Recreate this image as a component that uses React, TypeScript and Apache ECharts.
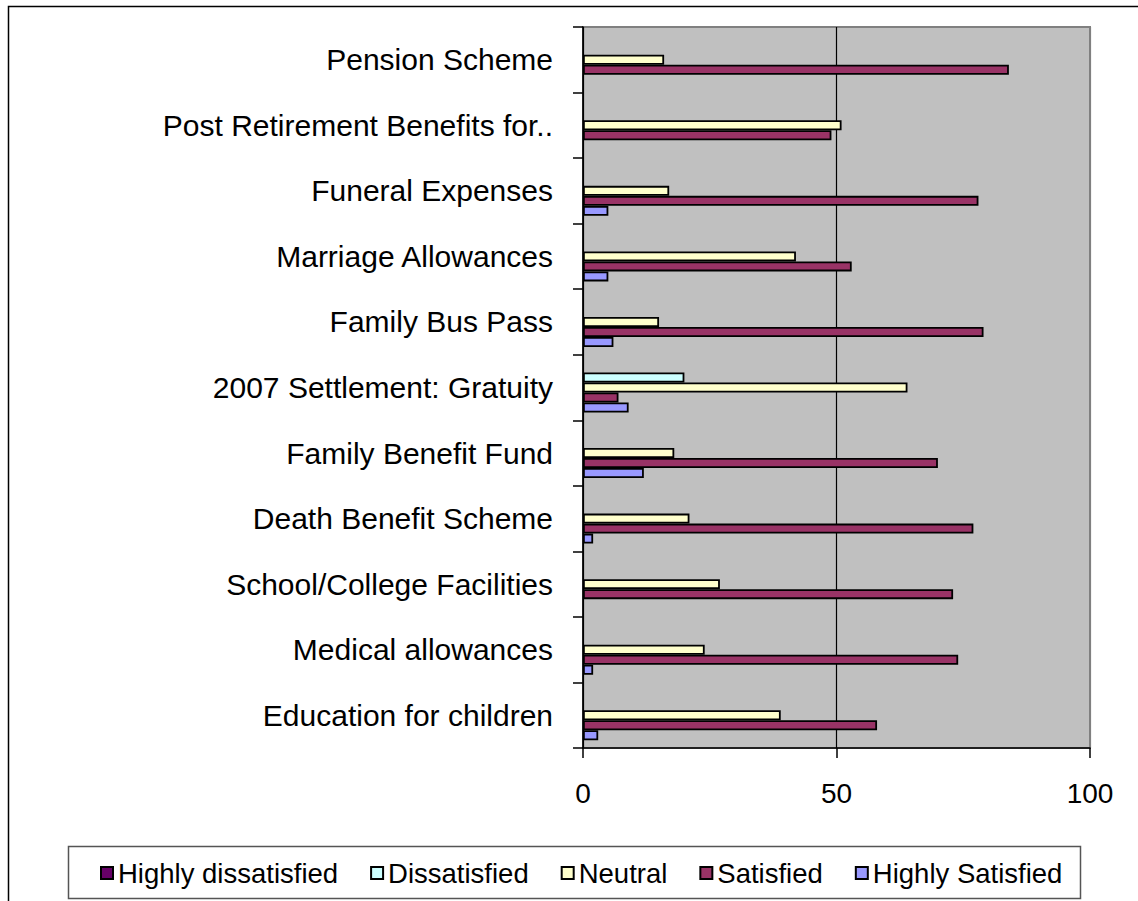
import React, { useEffect, useRef } from "react";
import * as echarts from "echarts";

const categories = [
  "Pension Scheme",
  "Post Retirement Benefits for..",
  "Funeral Expenses",
  "Marriage Allowances",
  "Family Bus Pass",
  "2007 Settlement: Gratuity",
  "Family Benefit Fund",
  "Death Benefit Scheme",
  "School/College Facilities",
  "Medical allowances",
  "Education for children",
];

const seriesNames = ["Highly dissatisfied", "Dissatisfied", "Neutral", "Satisfied", "Highly Satisfied"];
const highlyDissatisfied = [0, 0, 0, 0, 0, 0, 0, 0, 0, 0, 0];
const dissatisfied = [0, 0, 0, 0, 0, 20, 0, 0, 0, 0, 0];
const neutral = [16, 51, 17, 42, 15, 64, 18, 21, 27, 24, 39];
const satisfied = [84, 49, 78, 53, 79, 7, 70, 77, 73, 74, 58];
const highlySatisfied = [0, 0, 5, 5, 6, 9, 12, 2, 0, 2, 3];
const xTicks = [0, 50, 100];

const colors = ["#660066", "#CCFFFF", "#FFFFCC", "#993366", "#9999FF"];
const FONT = "'Liberation Sans', Arial, sans-serif";

export default function App() {
  const ref = useRef<HTMLDivElement>(null);
  useEffect(() => {
    if (!ref.current) return;
    const chart = echarts.init(ref.current, undefined, { renderer: "svg" });
    const allData = [highlyDissatisfied, dissatisfied, neutral, satisfied, highlySatisfied];
    const series = allData.map((d, i) => ({
      name: seriesNames[i],
      type: "bar",
      data: d.map((v) => (v === 0 ? null : v)),
      barWidth: 10,
      barGap: "0%",
      itemStyle: { color: colors[i], borderColor: "#000000", borderWidth: 1.8 },
    }));
    chart.setOption({
      animation: false,
      backgroundColor: "#ffffff",
      textStyle: { fontFamily: FONT },
      grid: {
        left: 583,
        top: 27,
        width: 507,
        height: 721,
        show: true,
        backgroundColor: "#C0C0C0",
        borderColor: "#808080",
        borderWidth: 2,
      },
      legend: {
        left: 100,
        top: 859,
        padding: 0,
        itemWidth: 12,
        itemHeight: 12,
        itemGap: 32,
        icon: "rect",
        data: seriesNames,
        textStyle: { fontSize: 27.5, color: "#000", fontFamily: FONT, padding: [0, 0, 0, 0] },
      },
      xAxis: {
        type: "value",
        min: xTicks[0],
        max: xTicks[xTicks.length - 1],
        interval: xTicks[1] - xTicks[0],
        axisLine: { show: true, lineStyle: { color: "#000", width: 1.5 } },
        axisTick: { show: true, length: 10, lineStyle: { color: "#000", width: 1.5 } },
        axisLabel: { fontSize: 28, color: "#000", margin: 31, fontFamily: FONT },
        splitLine: { show: true, lineStyle: { color: ["#000", "#000", "#808080"], width: 1.2 } },
      },
      yAxis: {
        type: "category",
        inverse: true,
        data: categories,
        axisLine: { show: true, lineStyle: { color: "#000", width: 1.5 } },
        axisTick: { show: true, length: 10, lineStyle: { color: "#000", width: 1.5 } },
        axisLabel: { fontSize: 30, color: "#000", margin: 30, fontFamily: FONT },
        splitLine: { show: false },
      },
      graphic: [
        {
          type: "rect",
          shape: { x: 8.5, y: 6.5, width: 1300, height: 1000 },
          style: { fill: "none", stroke: "#000", lineWidth: 1.5 },
          silent: true,
        },
        {
          type: "rect",
          shape: { x: 68.5, y: 846.5, width: 1012, height: 52 },
          style: { fill: "none", stroke: "#555", lineWidth: 1.5 },
          silent: true,
        },
      ],
      series,
    });
    return () => chart.dispose();
  }, []);
  return (
    <div
      ref={ref}
      style={{ position: "absolute", left: 0, top: 0, width: 1138, height: 901, background: "#fff" }}
    />
  );
}
